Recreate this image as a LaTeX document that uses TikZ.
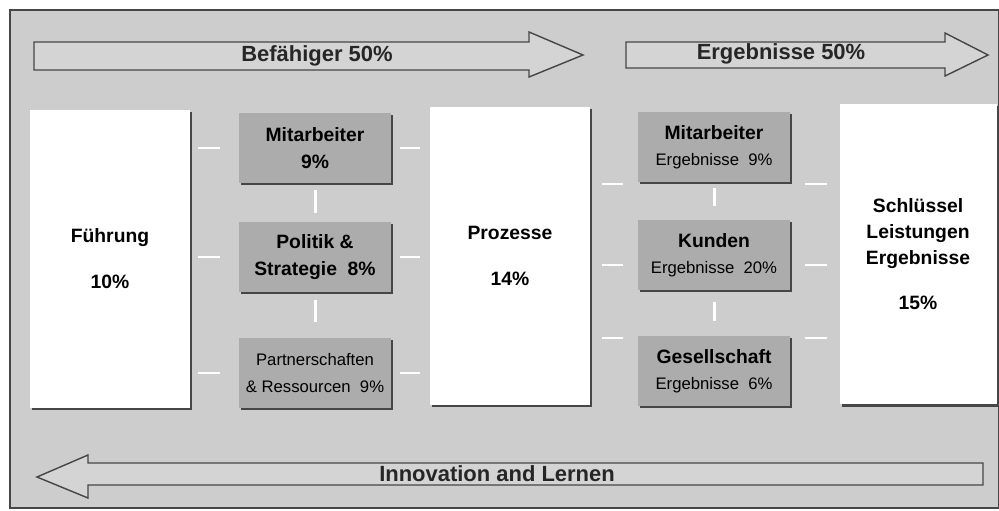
\documentclass[tikz,border=0pt]{standalone}
\usepackage{fontspec}
\setmainfont{Liberation Sans}
\usetikzlibrary{shadows}

\definecolor{bggray}{RGB}{205,205,205}
\definecolor{arrowgray}{RGB}{212,212,212}
\definecolor{boxgray}{RGB}{172,172,172}
\definecolor{linegray}{RGB}{70,70,70}
\newcommand{\hd}[1]{{\bfseries\fontsize{11}{14}\selectfont #1}}

\begin{document}
\begin{tikzpicture}[x=0.02cm, y=-0.02cm,
  boxshadow/.style={drop shadow={shadow xshift=1.3pt, shadow yshift=-1.3pt, fill=linegray, opacity=1}},
  bigbox/.style={boxshadow, fill=white, minimum width=3.2cm, minimum height=5.96cm, inner sep=0pt, align=center, font=\bfseries\fontsize{11}{14.7}\selectfont},
  smallbox/.style={boxshadow, fill=boxgray, minimum width=3.04cm, minimum height=1.4cm, inner sep=0pt, align=center, font=\fontsize{9.5}{15}\selectfont},
  bigarrow/.style={draw=linegray, fill=arrowgray, line width=0.8pt, line join=miter},
  arrowlabel/.style={font=\bfseries\fontsize{12.5}{15}\selectfont, text=black!85},
  link/.style={draw=white, line width=1.7pt}]
  \useasboundingbox (0,0) rectangle (999,510);
  \fill[white] (0,0) rectangle (999,510);
  \draw[draw=linegray, fill=bggray, line width=0.6pt] (10,10) rectangle (999,508);

  % Pfeile oben und unten
  \draw[bigarrow] (34,42) -- (529,42) -- (529,32) -- (583,55) -- (529,77) -- (529,70) -- (34,70) -- cycle;
  \draw[bigarrow] (626,42) -- (945,42) -- (945,33) -- (988,55) -- (945,76) -- (945,68) -- (626,68) -- cycle;
  \draw[bigarrow] (983,463) -- (88,463) -- (88,455) -- (37,477) -- (88,498) -- (88,485) -- (983,485) -- cycle;
  \node[arrowlabel] (befaehiger) at (317,56) {Befähiger 50\%};
  \node[arrowlabel] (ergebnisse) at (781,54) {Ergebnisse 50\%};
  \node[arrowlabel] (innovation) at (497,474) {Innovation and Lernen};

  % Befaehiger
  \node[bigbox] (fuehrung) at (110,259) {Führung\\[11.5pt]10\%};
  \node[smallbox] (mitarbeiter) at (315,148) {\hd{Mitarbeiter}\\\hd{9\%}};
  \node[smallbox] (politik) at (315,257) {\hd{Politik \&}\\\hd{Strategie\ \ 8\%}};
  \node[smallbox] (partner) at (315,373) {Partnerschaften\\\&\ Ressourcen\ \ 9\%};
  \node[bigbox] (prozesse) at (510,256) {Prozesse\\[11.5pt]14\%};

  % Ergebnisse
  \node[smallbox] (mitergebnis) at (714,147) {\hd{Mitarbeiter}\\Ergebnisse\ \ 9\%};
  \node[smallbox] (kunden) at (714,255) {\hd{Kunden}\\Ergebnisse\ \ 20\%};
  \node[smallbox] (gesellschaft) at (714,371) {\hd{Gesellschaft}\\Ergebnisse\ \ 6\%};
  \node[bigbox, minimum width=3.14cm, minimum height=6.02cm] (schluessel) at (918,254) {Schlüssel\\Leistungen\\Ergebnisse\\[11pt]15\%};

  % weisse Verbindungsstriche
  \foreach \b in {mitarbeiter, politik, partner} {
    \draw[link, shorten <=0.16cm, shorten >=0.38cm] (fuehrung.east |- \b) -- (\b.west);
    \draw[link, shorten <=0.18cm, shorten >=0.2cm] (\b.east) -- (prozesse.west |- \b);
  }
  \draw[link, shorten <=0.14cm, shorten >=0.18cm] (mitarbeiter.south) -- (politik.north);
  \draw[link, shorten <=0.16cm, shorten >=0.32cm] (politik.south) -- (partner.north);
  \foreach \y in {184, 265, 338} {
    \draw[link, shorten <=0.24cm, shorten >=0.3cm] (prozesse.east |- 0,\y) -- (mitergebnis.west |- 0,\y);
    \draw[link, shorten <=0.3cm, shorten >=0.24cm] (mitergebnis.east |- 0,\y) -- (schluessel.west |- 0,\y);
  }
  \draw[link, shorten <=0.12cm, shorten >=0.28cm] (mitergebnis.south) -- (kunden.north);
  \draw[link, shorten <=0.24cm, shorten >=0.3cm] (kunden.south) -- (gesellschaft.north);
\end{tikzpicture}
\end{document}
